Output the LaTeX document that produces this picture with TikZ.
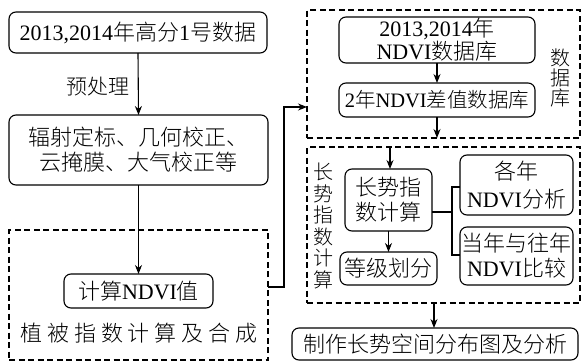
\documentclass[tikz,border=0pt]{standalone}
\usepackage{fontspec}
\setmainfont{Liberation Serif}
\newfontfamily\cjk{Noto Sans CJK SC Light}
\newcommand\zh[1]{{\cjk #1}}
\usetikzlibrary{arrows.meta}
\begin{document}
\begin{tikzpicture}[x=1pt,y=-1pt,
  box/.style={draw, rounded corners=7pt, line width=1.1pt, align=center, inner sep=0pt, outer sep=0pt},
  dbox/.style={draw, dash pattern=on 6pt off 3.5pt, line width=1.1pt, inner sep=0pt, outer sep=0pt},
  arr/.style={-{Stealth[length=9pt,width=7pt]}, line width=1.1pt},
  ln/.style={line width=1.1pt},
  cj/.style={font=\cjk\fontsize{22}{25}\selectfont},
  mx/.style={font=\fontsize{22}{25}\selectfont}]
\useasboundingbox (0,0) rectangle (581,362);
% left column
\node[box,mx,minimum width=258pt,minimum height=41pt] (b1) at (138,32.5) {2013,2014\zh{年高分}1\zh{号数据}};
\node[box,cj,minimum width=259pt,minimum height=70pt] (b2) at (138.5,150) {辐射定标、几何校正、\\云掩膜、大气校正等};
\node[dbox,minimum width=259pt,minimum height=130pt] (d1) at (138.5,295) {};
\node[box,mx,minimum width=149pt,minimum height=34pt] (b3) at (138.5,291) {\zh{计算}NDVI\zh{值}};
\node[cj] (lab1) at (139,333) {植\hspace{4.9pt}被\hspace{4.9pt}指\hspace{4.9pt}数\hspace{4.9pt}计\hspace{4.9pt}算\hspace{4.9pt}及\hspace{4.9pt}合\hspace{4.9pt}成};
\node[cj,anchor=east,font=\cjk\fontsize{21}{25}\selectfont] (pre) at (133,87) {预处理};
\draw[arr] (b1.south) -- (b2.north);
\draw[arr] (b2.south) -- (b3.north);
% database block
\node[dbox,minimum width=273pt,minimum height=128pt] (ddb) at (443.5,74) {};
\node[box,font=\fontsize{22}{21}\selectfont,minimum width=196pt,minimum height=46pt] (b4) at (437,40) {2013,2014\zh{年}\\NDVI\zh{数据库}};
\node[box,font=\fontsize{20.5}{25}\selectfont,minimum width=196pt,minimum height=34pt] (b5) at (437,100) {2\zh{年}NDVI\zh{差值数据库}};
\node[align=center,font=\cjk\fontsize{20}{20}\selectfont] (vl1) at (560,78) {数\\据\\库};
\draw[arr] (b4.south) -- (b5.north);
\draw[arr] (b5.south) -- (b5.south |- ddb.south);
% connector left -> database
\coordinate (j1) at (284,287);
\coordinate (y107) at (0,107);
\draw[arr] (j1 -| d1.east) -- (j1) |- (ddb.west |- y107);
% index block
\node[dbox,minimum width=273pt,minimum height=156pt] (d3) at (443.5,225) {};
\node[box,cj,minimum width=87pt,minimum height=62pt] (b6) at (388.5,200) {长势指\\数计算};
\node[box,cj,minimum width=97pt,minimum height=33pt] (b7) at (388.5,268.5) {等级划分};
\node[box,mx,minimum width=113pt,minimum height=60pt,font=\fontsize{22}{28}\selectfont] (b8) at (516.5,185) {\zh{各年}\\NDVI\zh{分析}};
\node[box,mx,minimum width=113pt,minimum height=58pt] (b9) at (516.5,256) {\zh{当年与往年}\\NDVI\zh{比较}};
\node[align=center,font=\cjk\fontsize{20}{21.6}\selectfont] (vl2) at (323,226) {长\\势\\指\\数\\计\\算};
\coordinate (t3) at (390,0);
\draw[arr] (t3 |- d3.north) -- (t3 |- b6.north);
\draw[arr] (b6.south) -- (b7.north);
\coordinate (jx) at (452,212);
\coordinate (y187) at (0,187);
\coordinate (y255) at (0,255);
\draw[ln] (b6.east |- jx) -- (jx);
\draw[ln] (b8.west |- y187) -| (jx |- y255) -- (b9.west |- y255);
% final
\node[box,cj,minimum width=286pt,minimum height=32pt] (b10) at (435,344) {制作长势空间分布图及分析};
\coordinate (t10) at (434,0);
\draw[arr] (t10 |- d3.south) -- (t10 |- b10.north);
\end{tikzpicture}
\end{document}
